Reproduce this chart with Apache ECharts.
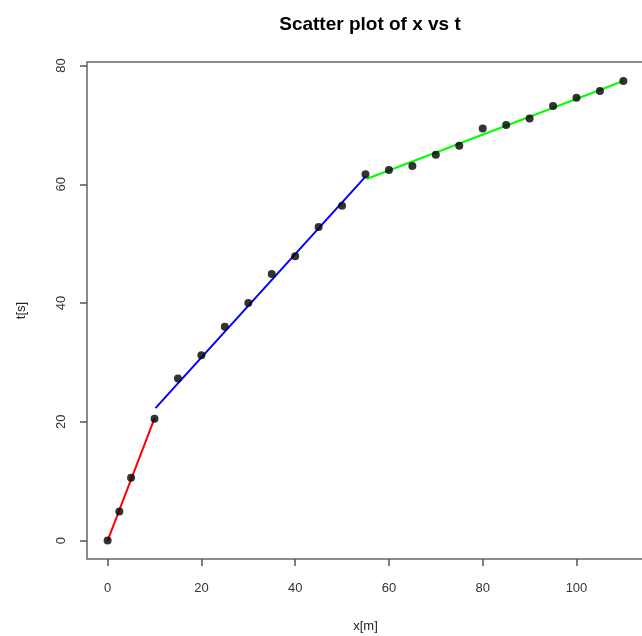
<!DOCTYPE html>
<html lang="en">
  <head>
    <meta charset="UTF-8" />
    <title>Scatter plot of x vs t</title>
    <style>
      body {
        margin: 0;
        background: #fff;
      }
      #chart {
        width: 642px;
        height: 636px;
      }
    </style>
    <script src="https://cdn.jsdelivr.net/npm/echarts@6/dist/echarts.min.js"></script>
  </head>
  <body>
    <div id="chart"></div>
    <script>
      // measured points
      const xs = [0, 2.5, 5, 10, 15, 20, 25, 30, 35, 40, 45, 50, 55, 60, 65, 70, 75, 80, 85, 90, 95, 100, 105, 110];
      const ts = [0, 4.9, 10.6, 20.5, 27.3, 31.2, 36.0, 40.0, 44.9, 47.9, 52.8, 56.4, 61.7, 62.4, 63.1, 65.0, 66.5, 69.4, 70.0, 71.1, 73.2, 74.6, 75.7, 77.4];

      // fitted segments (endpoints)
      const redFit = [[0, 0], [10, 20.6]];
      const blueFit = [[10.2, 22.3], [55, 61.3]];
      const greenFit = [[55.2, 60.9], [110, 77.4]];

      const xTicks = [0, 20, 40, 60, 80, 100];
      const yTicks = [0, 20, 40, 60, 80];

      const font = "Liberation Sans, Arial, sans-serif";

      const chart = echarts.init(document.getElementById("chart"));

      function fitLine(data, color) {
        return {
          type: "line",
          data: data,
          symbol: "none",
          lineStyle: { color: color, width: 2 },
          z: 3,
        };
      }

      chart.setOption({
        animation: false,
        title: {
          text: "Scatter plot of x vs t",
          left: 365,
          top: 10,
          textAlign: "center",
          textStyle: { fontFamily: font, fontSize: 19, fontWeight: "bold", color: "#000" },
        },
        grid: {
          left: 87,
          top: 62,
          width: 557,
          height: 497,
          outerBoundsMode: "none",
          containLabel: false,
          show: true,
          borderColor: "#666",
          borderWidth: 1.5,
          backgroundColor: "transparent",
        },
        xAxis: {
          type: "value",
          min: -4.4,
          max: 114.4,
          name: "x[m]",
          nameLocation: "middle",
          nameGap: 61,
          nameTextStyle: { fontFamily: font, fontSize: 13, color: "#222" },
          axisLine: { show: false, onZero: false },
          splitLine: { show: false },
          axisTick: {
            show: true,
            customValues: xTicks,
            length: 7,
            inside: false,
            lineStyle: { color: "#555", width: 1.5 },
          },
          axisLabel: {
            customValues: xTicks,
            margin: 23,
            fontFamily: font,
            fontSize: 13,
            color: "#333",
          },
        },
        yAxis: {
          type: "value",
          min: -3.1,
          max: 80.6,
          name: "t[s]",
          nameLocation: "middle",
          nameGap: 59,
          nameRotate: 90,
          nameTextStyle: { fontFamily: font, fontSize: 13, color: "#222" },
          axisLine: { show: false, onZero: false },
          splitLine: { show: false },
          axisTick: {
            show: true,
            customValues: yTicks,
            length: 7,
            inside: false,
            lineStyle: { color: "#555", width: 1.5 },
          },
          axisLabel: {
            customValues: yTicks,
            rotate: 90,
            margin: 19,
            fontFamily: font,
            fontSize: 13,
            color: "#333",
          },
        },
        series: [
          fitLine(redFit, "#ff0000"),
          fitLine(blueFit, "#0000ff"),
          fitLine(greenFit, "#00ff00"),
          {
            type: "scatter",
            data: xs.map((x, i) => [x, ts[i]]),
            symbol: "circle",
            symbolSize: 8,
            itemStyle: { color: "#000" },
            z: 4,
          },
        ],
      });
    </script>
  </body>
</html>
